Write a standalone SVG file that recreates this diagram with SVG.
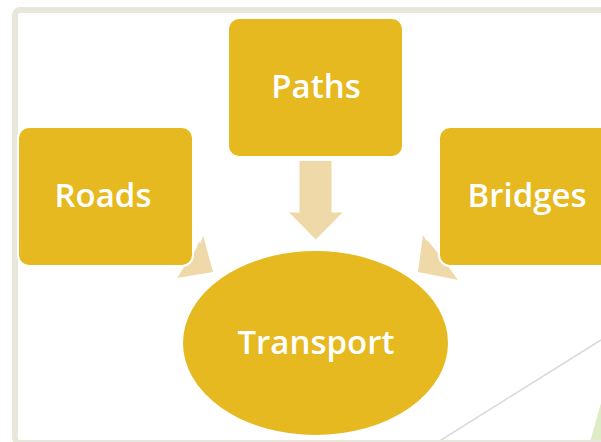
<svg xmlns="http://www.w3.org/2000/svg" width="601" height="442" viewBox="0 0 601 442">
<style>
.node{fill:#E5B91F;stroke:#FFFFFF;stroke-width:2}
.arrow{fill:#F0D9A9}
.label{font-family:"Open Sans","DejaVu Sans",sans-serif;font-weight:600;font-size:33px;fill:#FFFFFF;text-anchor:middle}
</style>
<rect width="601" height="442" fill="#FFFFFF"/>
<polygon points="590,442 601,403 601,442" fill="#DDEBC6"/>
<line x1="438" y1="442" x2="601" y2="340" stroke="#D9D9D9" stroke-width="1.5"/>
<rect x="15" y="10" width="620" height="433" rx="5" fill="none" stroke="#E9E7DC" stroke-width="6"/>
<g id="connectors">
<polygon class="arrow" points="177,278 196,249 199,242 201,243 203,235 213,272"/>
<polygon class="arrow" points="423,235 426,240 429,242 445,262 458,280 418,272"/>
<polygon class="arrow" points="299.5,161 331.5,161 331.5,212.5 342.5,212.5 315.8,239.5 289,212.5 299.5,212.5"/>
</g>
<g id="roads">
<rect class="node" x="18" y="127" width="175" height="139" rx="11"/>
<text class="label" x="103" y="207">Roads</text>
</g>
<g id="paths">
<rect class="node" x="228" y="18" width="175" height="139" rx="11"/>
<text class="label" x="316" y="98">Paths</text>
</g>
<g id="bridges">
<rect class="node" x="439" y="127" width="175" height="139" rx="11"/>
<text class="label" x="527" y="207">Bridges</text>
</g>
<g id="transport">
<ellipse class="node" cx="315.5" cy="343" rx="133.5" ry="93"/>
<text class="label" x="316" y="354">Transport</text>
</g>
</svg>
